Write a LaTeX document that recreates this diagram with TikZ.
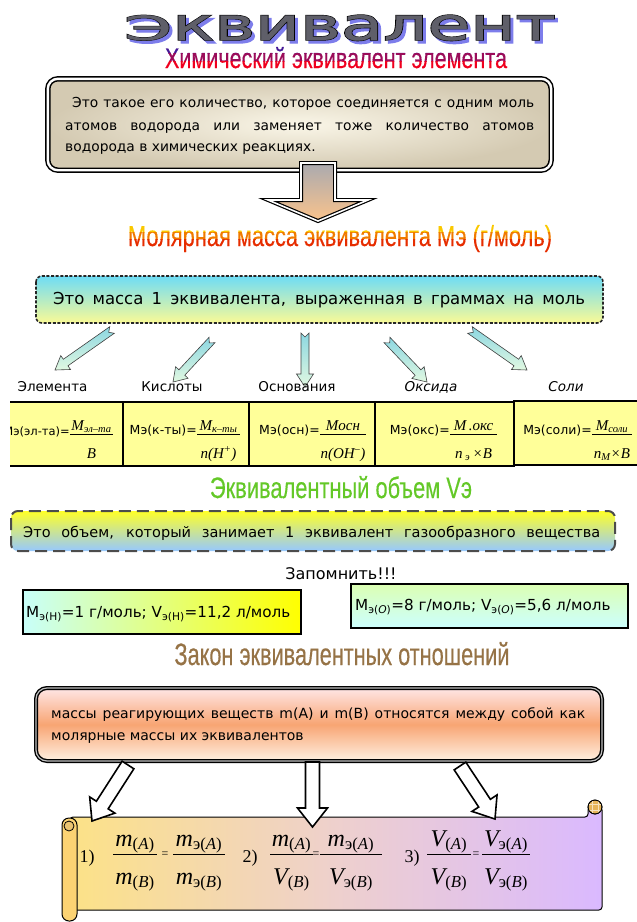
\documentclass[tikz,border=0pt]{standalone}
\usepackage{fontspec}
\setmainfont{DejaVu Sans}
\newfontfamily\ttlfont[FakeBold=0.4]{Liberation Sans}
\newfontfamily\tmsfont{Liberation Serif}
\newfontfamily\ekvfont[FakeBold=0.5]{DejaVu Sans}
\newfontfamily\ekvthick[FakeBold=3]{DejaVu Sans}
\usepackage{graphicx}
\usetikzlibrary{calc}

\definecolor{ekvblue}{RGB}{125,125,235}
\definecolor{ekvgray}{RGB}{95,95,105}
\definecolor{chemtop}{RGB}{70,25,150}
\definecolor{chembot}{RGB}{240,0,30}
\definecolor{moltop}{RGB}{250,200,0}
\definecolor{molbot}{RGB}{230,45,0}
\definecolor{creamin}{RGB}{250,246,232}
\definecolor{creamout}{RGB}{212,202,178}
\definecolor{arrowtop}{RGB}{170,170,175}
\definecolor{arrowbot}{RGB}{250,195,140}
\definecolor{masstop}{RGB}{110,220,245}
\definecolor{massbot}{RGB}{250,250,150}
\definecolor{cyanarr}{RGB}{140,215,225}
\definecolor{cyanlight}{RGB}{225,248,225}
\definecolor{formyellow}{RGB}{255,255,153}
\definecolor{volgreen}{RGB}{100,200,40}
\definecolor{voltop}{RGB}{255,255,40}
\definecolor{volbot}{RGB}{150,200,255}
\definecolor{memocyan}{RGB}{200,255,250}
\definecolor{memoyellow}{RGB}{255,255,0}
\definecolor{memolight}{RGB}{204,255,255}
\definecolor{lawbrown}{RGB}{150,115,70}
\definecolor{lawtop}{RGB}{255,230,230}
\definecolor{lawmid}{RGB}{248,165,115}
\definecolor{lawbot}{RGB}{255,240,225}
\definecolor{scrollleft}{RGB}{252,226,135}
\definecolor{scrollmid}{RGB}{238,208,205}
\definecolor{scrollright}{RGB}{218,185,255}
\definecolor{curl}{RGB}{230,180,90}

\tikzstyle{titlenode} = [inner sep=0pt, anchor=base]
\tikzstyle{txt} = [inner sep=0pt, anchor=base west, font=\fontsize{13.8}{15}\selectfont]
\tikzstyle{kind} = [inner sep=0pt, anchor=base, font=\fontsize{13.5}{15}\selectfont]
\tikzstyle{topbox} = [draw=black, line width=1.5pt, double=white, double distance=2.4pt, rounded corners=10pt, inner color=creamin, outer color=creamout]
\tikzstyle{bigarrow} = [draw=black, line width=1.2pt, double=white, double distance=1.6pt, line join=miter, top color=arrowtop, bottom color=arrowbot]
\tikzstyle{massbox} = [draw=black!85, line width=1.6pt, dash pattern=on 3pt off 1.6pt, rounded corners=6pt, top color=masstop, bottom color=massbot]
\tikzstyle{cyanarrow} = [draw=black!75, line width=0.6pt, top color=cyanarr, bottom color=cyanlight]
\tikzstyle{formbox} = [draw=black, line width=1.8pt, fill=formyellow]
\tikzstyle{mlabel} = [inner sep=0pt, anchor=base east, font=\fontsize{12.5}{14}\selectfont]
\tikzstyle{fml} = [inner sep=0pt, anchor=base, font=\tmsfont\itshape\fontsize{15}{17}\selectfont]
\tikzstyle{fbar} = [line width=0.7pt]
\tikzstyle{volbox} = [draw=black!70, line width=2pt, dash pattern=on 12pt off 6pt, rounded corners=7pt, top color=voltop, bottom color=volbot]
\tikzstyle{memobox} = [draw=black, line width=2.6pt]
\tikzstyle{lawbox} = [draw=black, line width=1.4pt, double=black!25, double distance=1.2pt, rounded corners=11pt, top color=lawtop, bottom color=lawbot, middle color=lawmid]
\tikzstyle{whitearrow} = [draw=black, line width=1.6pt, fill=white, line join=miter]
\tikzstyle{scrollbody} = [draw=black, line width=1pt, rounded corners=3pt, left color=scrollleft, right color=scrollright, middle color=scrollmid]
\tikzstyle{sfml} = [inner sep=0pt, anchor=base, font=\tmsfont\itshape\fontsize{24}{26}\selectfont]
\tikzstyle{snum} = [inner sep=0pt, anchor=base, font=\tmsfont\fontsize{18}{20}\selectfont]

\newcommand{\ekvword}[1]{\resizebox{432pt}{25pt}{#1\fontsize{40}{40}\selectfont\scalebox{1}[0.75]{Э}квивалент}}
\newcommand{\chemtitle}{\resizebox{342pt}{21pt}{\ttlfont Химический эквивалент элемента}}
\newcommand{\moltitle}{\resizebox{424pt}{21pt}{\ttlfont Молярная масса эквивалента Мэ (г/моль)}}
\newcommand{\sA}{\textsubscript{\upshape(\textit{A})}}
\newcommand{\sB}{\textsubscript{\upshape(\textit{B})}}
\newcommand{\seA}{\textsubscript{\upshape э(\textit{A})}}
\newcommand{\seB}{\textsubscript{\upshape э(\textit{B})}}

% block arrow: style, tail, tip, shaft half width, head half width, head length, notch
\newcommand{\blockarr}[7]{
  \coordinate (bahead) at ($(#3)!#6!(#2)$);
  \draw[#1] ($(#2)!#4!90:(#3)$) -- ($(bahead)!#4!90:(#3)$) -- ($(bahead)!#5!90:(#3)$) -- (#3)
    -- ($(bahead)!#5!-90:(#3)$) -- ($(bahead)!#4!-90:(#3)$) -- ($(#2)!#4!-90:(#3)$) -- ($(#2)!#7!(#3)$) -- cycle;
}
% fraction in the row of boxes: name, x from, x to, numerator, denominator
\newcommand{\rowfrac}[5]{
  \node (#1n) [fml] at ({(#2+#3)/2},430) {#4};
  \node (#1d) [fml] at ({(#2+#3)/2},458) {#5};
  \draw[fbar] (#2,434) -- (#3,434);
}
% fraction on the scroll
\newcommand{\scrollfrac}[5]{
  \node (#1n) [sfml] at ({(#2+#3)/2},846) {#4};
  \node (#1d) [sfml] at ({(#2+#3)/2},884) {#5};
  \draw[line width=0.8pt] (#2,854) -- (#3,854);
}

\begin{document}
\begin{tikzpicture}[x=1pt,y=-1pt]
\useasboundingbox (0,0) rectangle (637,922);

% heading
\node (ekvshadow) [titlenode, text=ekvblue] at (343,43) {\ekvword{\ekvthick}};
\node (ekvedge) [titlenode, text=black] at (340,40) {\ekvword{\ekvthick}};
\node (ekv) [titlenode, text=ekvgray] at (340,40) {\ekvword{\ekvfont}};

% colour bands, top to bottom
\foreach \i in {0,1,2}{
  \pgfmathtruncatemacro{\p}{50*\i}
  \pgfmathsetmacro{\ya}{\i==0 ? 30 : 46+7.5*\i}
  \pgfmathsetmacro{\yb}{\i==2 ? 80 : 46.2+7.5*(\i+1)}
  \begin{scope}
    \clip (100,\ya) rectangle (580,\yb);
    \node (chem\i) [titlenode, text=chembot!\p!chemtop] at (336,68) {\chemtitle};
  \end{scope}
}

% definition
\draw[topbox] (47.8,78.8) rectangle (551.2,170.2);
\node (def1) [txt] at (72,107.5) {\makebox[462pt][s]{Это такое его количество, которое соединяется с одним моль}};
\node (def2) [txt] at (65,130.5) {\makebox[469pt][s]{атомов водорода или заменяет тоже количество атомов}};
\node (def3) [txt] at (65,151.5) {водорода в химических реакциях.};

\coordinate (bigt) at (318,163);
\coordinate (bigh) at (318,221);
\blockarr{bigarrow}{bigt}{bigh}{17pt}{50pt}{21pt}{0pt}

\foreach \i in {0,1,2}{
  \pgfmathtruncatemacro{\p}{50*\i}
  \pgfmathsetmacro{\ya}{\i==0 ? 210 : 225+7*\i}
  \pgfmathsetmacro{\yb}{\i==2 ? 262 : 225.2+7*(\i+1)}
  \begin{scope}
    \clip (100,\ya) rectangle (580,\yb);
    \node (mol\i) [titlenode, text=molbot!\p!moltop] at (340,246) {\moltitle};
  \end{scope}
}

% molar mass
\draw[massbox] (36,276) rectangle (603,323);
\node (mass) [txt, font=\fontsize{16.5}{18}\selectfont] at (53,304) {\makebox[532pt][s]{Это масса 1 эквивалента, выраженная в граммах на моль}};

\foreach \n/\xa/\ya/\xb/\yb in {1/112/330/55/370, 2/212/340/173/382, 3/305/333/305/387, 4/387/340/427/382, 5/470/330/527/370}{
  \coordinate (ct\n) at (\xa,\ya);
  \coordinate (ch\n) at (\xb,\yb);
  \blockarr{cyanarrow}{ct\n}{ch\n}{4pt}{8.5pt}{13pt}{4pt}
}

\node (elem) [kind] at (52.5,391) {Элемента};
\node (acid) [kind] at (172,391) {Кислоты};
\node (base) [kind] at (297,391) {Основания};
\node (oxid) [kind, font=\fontsize{13.5}{15}\selectfont\itshape] at (431,391) {Оксида};
\node (salt) [kind, font=\fontsize{13.5}{15}\selectfont\itshape] at (566,391) {Соли};

% formulas of the equivalent mass
\fill[formyellow] (10,402) rectangle (123,466);
\draw[formbox] (123,402) rectangle (249,466);
\draw[formbox] (249,402) rectangle (375,466);
\draw[formbox] (375,402) rectangle (514,466);
\draw[formbox] (514,401) rectangle (645,465);
\draw[line width=1.8pt] (10,402) -- (123,402) (10,466) -- (123,466);

\begin{scope}
  \clip (10,400) rectangle (123,468);
  \node (m1) [mlabel, font=\fontsize{11.5}{13}\selectfont] at (70,435) {Мэ(эл-та)=};
  \rowfrac{f1}{70}{113}{M\textsubscript{эл–та}}{B}
\end{scope}
\node (m2) [mlabel] at (197,434) {Мэ(к-ты)=};
\rowfrac{f2}{197}{240}{M\textsubscript{к–ты}}{n(H\textsuperscript{+})}
\node (m3) [mlabel] at (320,434) {Мэ(осн)=};
\rowfrac{f3}{320}{366}{Mосн}{n(OH\textsuperscript{–})}
\node (m4) [mlabel] at (450,434) {Мэ(окс)=};
\rowfrac{f4}{450}{497}{M\,.окс}{n\,\textsubscript{э}\,×B}
\node (m5) [mlabel] at (592,434) {Мэ(соли)=};
\rowfrac{f5}{592}{632}{M\textsubscript{соли}}{n\textsubscript{М}×B}

% equivalent volume
\node (vol) [titlenode, text=volgreen] at (341,498) {\resizebox{262pt}{22pt}{\ttlfont Эквивалентный объем Vэ}};
\draw[volbox] (11,511) rectangle (615,551);
\node (voltext) [txt, font=\fontsize{14.5}{16}\selectfont] at (23,537) {\makebox[577pt][s]{Это объем, который занимает 1 эквивалент газообразного вещества}};

\node (remember) [kind, font=\fontsize{16}{18}\selectfont] at (341,579) {Запомнить!!!};
\draw[memobox, left color=memocyan, right color=memoyellow] (23,590) rectangle (301,634);
\node (memoh) [txt, font=\fontsize{15.2}{18}\selectfont] at (26,617) {М\textsubscript{э(Н)}=1 г/моль; V\textsubscript{э(Н)}=11,2 л/моль};
\draw[memobox, top color=memolight!70!yellow, bottom color=memolight] (351,584) rectangle (628,628);
\node (memoo) [txt, font=\fontsize{15.2}{18}\selectfont] at (355,610) {М\textsubscript{э(\textit{О})}=8 г/моль; V\textsubscript{э(\textit{О})}=5,6 л/моль};

% law of equivalents
\node (law) [titlenode, text=lawbrown] at (342,665) {\resizebox{335pt}{23pt}{\ttlfont Закон эквивалентных отношений}};
\draw[lawbox] (36,688) rectangle (602,761);
\node (law1) [txt, font=\fontsize{14}{15}\selectfont] at (51,718) {\makebox[534pt][s]{массы реагирующих веществ m(A) и m(B) относятся между собой как}};
\node (law2) [txt, font=\fontsize{14}{15}\selectfont] at (51,740) {молярные массы их эквивалентов};

% scroll
\draw[scrollbody] (70,817) -- (588,817) -- (588,807) -- (602,807) -- (602,910) -- (70,910) -- cycle;
\draw[line width=1pt, fill=scrollleft!85!orange, rounded corners=7pt] (62,818) rectangle (77,921);
\draw[line width=0.8pt, fill=scrollleft!70!brown] (69,826) circle (5);
\draw[line width=0.8pt, fill=curl] (595,807) circle (7);
\begin{scope}
  \clip (595,807) circle (7);
  \draw[white!60!curl, line width=0.6pt] (588,804) -- (602,804) (588,810) -- (602,810) (592,800) -- (592,814) (598,800) -- (598,814);
\end{scope}
\draw[line width=0.8pt] (595,807) circle (7);

\node (n1) [snum] at (87,862) {1)};
\scrollfrac{s1a}{113}{157}{m\sA}{m\sB}
\node (eq1) [inner sep=0pt, font=\tmsfont\fontsize{12}{12}\selectfont] at (165,855) {=};
\scrollfrac{s1b}{173}{225}{m\seA}{m\seB}
\node (n2) [snum] at (250,862) {2)};
\scrollfrac{s2a}{270}{313}{m\sA}{V\sB}
\node (eq2) [inner sep=0pt, font=\tmsfont\fontsize{12}{12}\selectfont] at (316,855) {=};
\scrollfrac{s2b}{320}{382}{m\seA}{V\seB}
\node (n3) [snum] at (412,862) {3)};
\scrollfrac{s3a}{427}{471}{V\sA}{V\sB}
\node (eq3) [inner sep=0pt, font=\tmsfont\fontsize{12}{12}\selectfont] at (476,855) {=};
\scrollfrac{s3b}{482}{530}{V\seA}{V\seB}

\coordinate (w1t) at (128,765);
\coordinate (w1h) at (92,821);
\coordinate (w2t) at (312.5,762);
\coordinate (w2h) at (312.5,827);
\coordinate (w3t) at (460,766);
\coordinate (w3h) at (495,819);
\blockarr{whitearrow}{w1t}{w1h}{7pt}{15pt}{19pt}{0pt}
\blockarr{whitearrow}{w2t}{w2h}{7pt}{15pt}{19pt}{0pt}
\blockarr{whitearrow}{w3t}{w3h}{7pt}{15pt}{19pt}{0pt}

\end{tikzpicture}
\end{document}
